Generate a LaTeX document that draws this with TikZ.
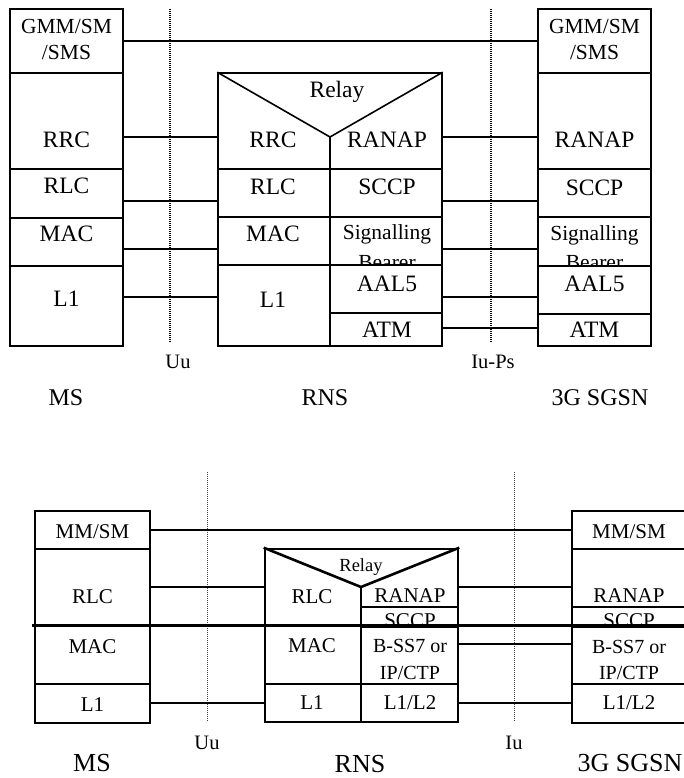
\documentclass[tikz,border=0pt]{standalone}
\usepackage{fontspec}
\setmainfont{Liberation Serif}
\usetikzlibrary{fit}
\tikzset{
  cellA/.style={draw, fill=white, line width=1.6pt, inner sep=0pt},
  cellB/.style={draw, fill=white, line width=2.6pt, inner sep=0pt},
  conn/.style={line width=1.6pt},
  dotA/.style={line width=1.2pt, dash pattern=on 1pt off 1pt},
  dotB/.style={line width=0.8pt, dash pattern=on 1pt off 1pt, black!75},
  txtA/.style={font=\fontsize{23.5}{26}\selectfont, inner sep=0pt, align=center},
  txtAs/.style={font=\fontsize{21.5}{26}\selectfont, inner sep=0pt, align=center},
  txtB/.style={font=\fontsize{21}{26}\selectfont, inner sep=0pt, align=center},
  txtBs/.style={font=\fontsize{20}{26}\selectfont, inner sep=0pt, align=center},
  lblA/.style={font=\fontsize{20.5}{24}\selectfont, inner sep=0pt},
  lblBig/.style={font=\fontsize{24}{28}\selectfont, inner sep=0pt},
  lblBigB/.style={font=\fontsize{26}{30}\selectfont, inner sep=0pt},
}
\newcommand\mycell[6]{\node[#1, fit={(#3,#4) (#5,#6)}] (#2) {};}
\begin{document}
\begin{tikzpicture}[x=1pt,y=-1pt]
\useasboundingbox (0,0) rectangle (683,778);
\fill[white] (0,0) rectangle (683,778);

% ================= TOP DIAGRAM =================
\draw[dotA] (170,9) coordinate (uuT1) -- (170,343) coordinate (uuT2);
\draw[dotA] (491,9) coordinate (iuT1) -- (491,343) coordinate (iuT2);

% MS stack
\mycell{cellA}{msGMM}{10}{9}{123}{73}
\node[txtAs] (tmsGMM) at (66.5,26) {GMM/SM};
\node[txtAs] (tmsSMS) at (66.5,52) {/SMS};
\mycell{cellA}{msRRC}{10}{73}{123}{169}
\node[txtA] (tmsRRC) at (66.5,140) {RRC};
\mycell{cellA}{msRLC}{10}{169}{123}{218}
\node[txtA] (tmsRLC) at (66.5,186) {RLC};
\mycell{cellA}{msMAC}{10}{218}{123}{266}
\node[txtA] (tmsMAC) at (66.5,234) {MAC};
\mycell{cellA}{msL1}{10}{266}{123}{346}
\node[txtA] (tmsL1) at (66.5,299) {L1};

% RNS
\mycell{cellA}{rnUp}{218}{73}{442}{169}
\draw[line width=1.6pt] (rnUp.north west) -- (330,137) coordinate (rnApex) -- (rnUp.north east);
\draw[line width=1.6pt] (rnApex) -- (330,169);
\node[txtA] (trnRelay) at (337,92) {Relay};
\node[txtA] (trnRRC) at (273,140) {RRC};
\node[txtA] (trnRANAP) at (387,140) {RANAP};
\mycell{cellA}{rnRLC}{218}{169}{330}{217}
\node[txtA] (trnRLC) at (273,187) {RLC};
\mycell{cellA}{rnSCCP}{330}{169}{442}{217}
\node[txtA] (trnSCCP) at (387,187) {SCCP};
\mycell{cellA}{rnMAC}{218}{217}{330}{265}
\node[txtA] (trnMAC) at (273,234) {MAC};
\mycell{cellA}{rnSig}{330}{217}{442}{265}
\node[txtAs] (trnSig) at (387,234) {Signalling};
\begin{scope}
\clip (331,248) rectangle (441,264);
\node[txtAs] (trnBear) at (387,263) {Bearer};
\end{scope}
\mycell{cellA}{rnL1}{218}{265}{330}{346}
\node[txtA] (trnL1) at (273,300) {L1};
\mycell{cellA}{rnAAL}{330}{265}{442}{313}
\node[txtA] (trnAAL) at (387,284) {AAL5};
\mycell{cellA}{rnATM}{330}{313}{442}{346}
\node[txtA] (trnATM) at (387,330) {ATM};

% SGSN
\mycell{cellA}{sgGMM}{538}{9}{651}{73}
\node[txtAs] (tsgGMM) at (594.5,26) {GMM/SM};
\node[txtAs] (tsgSMS) at (594.5,52) {/SMS};
\mycell{cellA}{sgRANAP}{538}{73}{651}{169}
\node[txtA] (tsgRANAP) at (594.5,140) {RANAP};
\mycell{cellA}{sgSCCP}{538}{169}{651}{217}
\node[txtA] (tsgSCCP) at (594.5,188) {SCCP};
\mycell{cellA}{sgSig}{538}{217}{651}{266}
\node[txtAs] (tsgSig) at (594.5,235) {Signalling};
\begin{scope}
\clip (539,248) rectangle (650,265);
\node[txtAs] (tsgBear) at (594.5,263) {Bearer};
\end{scope}
\mycell{cellA}{sgAAL}{538}{266}{651}{314}
\node[txtA] (tsgAAL) at (594.5,284) {AAL5};
\mycell{cellA}{sgATM}{538}{314}{651}{346}
\node[txtA] (tsgATM) at (594.5,330) {ATM};

% connectors top
\draw[conn] (msGMM.east |- 0,41) -- (sgGMM.west |- 0,41);
\draw[conn] (msRRC.east |- 0,137) -- (rnUp.west |- 0,137);
\draw[conn] (msRLC.east |- 0,201) -- (rnRLC.west |- 0,201);
\draw[conn] (msMAC.east |- 0,249) -- (rnMAC.west |- 0,249);
\draw[conn] (msL1.east |- 0,297) -- (rnL1.west |- 0,297);
\draw[conn] (rnUp.east |- 0,137) -- (sgRANAP.west |- 0,137);
\draw[conn] (rnSCCP.east |- 0,201) -- (sgSCCP.west |- 0,201);
\draw[conn] (rnSig.east |- 0,249) -- (sgSig.west |- 0,249);
\draw[conn] (rnAAL.east |- 0,297) -- (sgAAL.west |- 0,297);
\draw[conn] (rnATM.east |- 0,328) -- (sgATM.west |- 0,328);

% labels top
\node[lblA] (lUuT) at (178,362) {Uu};
\node[lblA] (lIuT) at (493,362) {Iu-Ps};
\node[lblBig] (lMST) at (66,398) {MS};
\node[lblBig] (lRNST) at (325,398) {RNS};
\node[lblBig] (lSGT) at (600,398) {3G SGSN};

% ================= BOTTOM DIAGRAM =================
\draw[dotB] (207,472) coordinate (uuB1) -- (207,722) coordinate (uuB2);
\draw[dotB] (514,472) coordinate (iuB1) -- (514,722) coordinate (iuB2);

% MS
\mycell{cellB}{bmsMM}{35}{511}{150}{549}
\node[txtB] (tbmsMM) at (92.5,532) {MM/SM};
\mycell{cellB}{bmsRLC}{35}{549}{150}{625}
\node[txtB] (tbmsRLC) at (92.5,597) {RLC};
\mycell{cellB}{bmsMAC}{35}{625}{150}{684}
\node[txtB] (tbmsMAC) at (92.5,647) {MAC};
\mycell{cellB}{bmsL1}{35}{684}{150}{723}
\node[txtB] (tbmsL1) at (92.5,705) {L1};

% RNS
\mycell{cellB}{brnUp}{265}{549}{458}{625}
\draw[line width=2.6pt] (brnUp.north west) -- (361,587) coordinate (brnApex) -- (brnUp.north east);
\draw[line width=2.6pt] (brnApex) -- (361,625);
\draw[line width=1.6pt] (361,607) -- (brnUp.east |- 0,607);
\node[font=\fontsize{18.5}{22}\selectfont, inner sep=0pt] (tbrnRelay) at (361,567) {Relay};
\node[txtB] (tbrnRLC) at (312,597) {RLC};
\node[txtB] (tbrnRANAP) at (410,596) {RANAP};
\begin{scope}
\clip (361,607) rectangle (458,624);
\node[txtB] (tbrnSCCP) at (410,621) {SCCP};
\end{scope}
\mycell{cellB}{brnMAC}{265}{625}{361}{684}
\node[txtB] (tbrnMAC) at (312,646) {MAC};
\mycell{cellB}{brnBSS}{361}{627}{458}{684}
\node[txtBs] (tbrnBSS) at (410,646) {B-SS7 or};
\node[txtBs] (tbrnIP) at (410,673) {IP/CTP};
\mycell{cellB}{brnL1}{265}{684}{361}{722}
\node[txtB] (tbrnL1) at (312,703) {L1};
\mycell{cellB}{brnL12}{361}{684}{458}{722}
\node[txtB] (tbrnL12) at (410,703) {L1/L2};

% SGSN
\mycell{cellB}{bsgMM}{572}{511}{692}{549}
\node[txtB] (tbsgMM) at (629,532) {MM/SM};
\mycell{cellB}{bsgRANAP}{572}{549}{692}{607}
\node[txtB] (tbsgRANAP) at (629,596) {RANAP};
\node[draw, fill=white, line width=1.6pt, inner sep=0pt, fit={(572,607) (692,625)}] (bsgSCCP) {};
\begin{scope}
\clip (572,607) rectangle (692,624);
\node[txtB] (tbsgSCCP) at (629,621) {SCCP};
\end{scope}
\draw[line width=2.6pt] (572,549) -- (572,627);
\mycell{cellB}{bsgBSS}{572}{627}{692}{684}
\node[txtBs] (tbsgBSS) at (629,647) {B-SS7 or};
\node[txtBs] (tbsgIP) at (629,673) {IP/CTP};
\mycell{cellB}{bsgL12}{572}{684}{692}{723}
\node[txtB] (tbsgL12) at (629,703) {L1/L2};

% long separator line
\coordinate (sepL) at (32,625);
\coordinate (sepR) at (692,625);
\draw[line width=3pt] (sepL) -- (sepR);

% connectors bottom
\draw[conn] (bmsMM.east |- 0,530) -- (bsgMM.west |- 0,530);
\draw[conn] (bmsRLC.east |- 0,587) -- (brnUp.west |- 0,587);
\draw[conn] (bmsL1.east |- 0,703) -- (brnL1.west |- 0,703);
\draw[conn] (brnUp.east |- 0,587) -- (bsgRANAP.west |- 0,587);
\draw[conn] (brnBSS.east |- 0,644) -- (bsgBSS.west |- 0,644);
\draw[conn] (brnL12.east |- 0,703) -- (bsgL12.west |- 0,703);

% labels bottom
\node[lblA] (lUuB) at (207,743) {Uu};
\node[lblA] (lIuB) at (514,743) {Iu};
\node[lblBigB] (lMSB) at (92,763) {MS};
\node[lblBigB] (lRNSB) at (360,764) {RNS};
\node[lblBigB] (lSGB) at (630,763) {3G SGSN};
\end{tikzpicture}
\end{document}
